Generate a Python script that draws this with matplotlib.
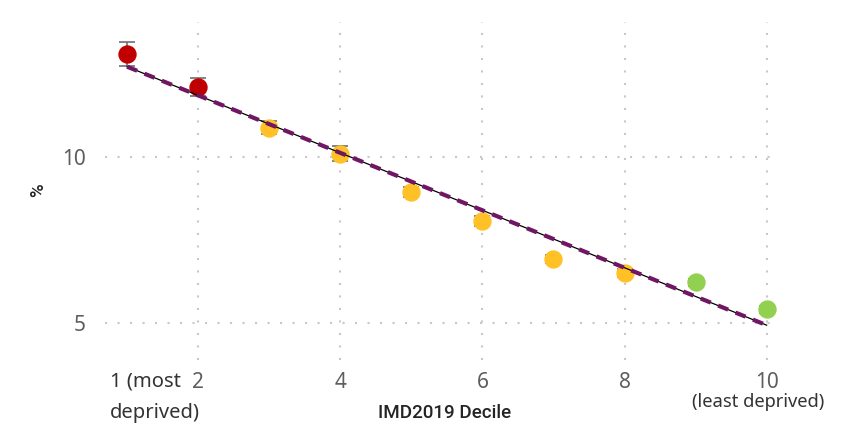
import matplotlib.pyplot as plt
import numpy as np

plt.rcParams["font.family"] = ["Noto Sans", "DejaVu Sans"]

# IMD2019 decile values (%)
deciles = [1, 2, 3, 4, 5, 6, 7, 8, 9, 10]
values = [13.08, 12.10, 10.87, 10.09, 8.95, 8.08, 6.92, 6.50, 6.23, 5.42]
errors = [0.35, 0.27, 0.20, 0.22, 0.15, 0.15, 0.12, 0.12, 0.10, 0.10]
groups = ["red", "red", "amber", "amber", "amber", "amber", "amber", "amber", "green", "green"]
group_colours = {"red": "#C00000", "amber": "#FFC125", "green": "#92D050"}

x_ticks = [2, 4, 6, 8, 10]
y_ticks = [5, 10]

fig = plt.figure(figsize=(8.54, 4.28), dpi=100)
ax = fig.add_axes([0.123, 0.159, 0.788, 0.790])

# markers with error bars
for x, y, e, g in zip(deciles, values, errors, groups):
    ax.errorbar(x, y, yerr=e, fmt="o", color=group_colours[g], ms=12.2,
                ecolor="#707070", elinewidth=1.2, capsize=5.5, capthick=1.2, zorder=2)

# linear trend, drawn over the markers
slope, intercept = np.polyfit(deciles, values, 1)
xs = np.array([deciles[0], deciles[-1]])
ax.plot(xs, intercept + slope * xs, color="black", lw=0.9, zorder=3)
trend, = ax.plot(xs, intercept + slope * xs, color="#701664", lw=3.0, zorder=4)
trend.set_dashes((2.6, 1.9))

ax.set_xlim(0.69, 10.16)
ax.set_ylim(3.9, 14.05)
ax.set_xticks(x_ticks)
ax.set_yticks(y_ticks)
ax.tick_params(length=0, labelsize=15, labelcolor="#605E5C")
ax.tick_params(axis="x", pad=9)
ax.tick_params(axis="y", pad=14)

ax.grid(True, color="#C8C8C8", lw=1.5, linestyle=(0, (1, 5)))
ax.set_axisbelow(True)
for s in ax.spines.values():
    s.set_visible(False)

fig.text(110 / 854, 1 - 381 / 428, "1 (most", ha="left", va="center", fontsize=14.5, color="#333333")
fig.text(110 / 854, 1 - 413 / 428, "deprived)", ha="left", va="center", fontsize=14.5, color="#333333")
fig.text(758 / 854, 1 - 402 / 428, "(least deprived)", ha="center", va="center", fontsize=13.2, color="#333333")

label_font = dict(family=["Roboto", "DejaVu Sans"], fontsize=13.5, fontweight="medium", color="#252423")
fig.text(445 / 854, 1 - 413 / 428, "IMD2019 Decile", ha="center", va="center", **label_font)
fig.text(38 / 854, 1 - 190 / 428, "%", ha="center", va="center", rotation=90, **label_font)

fig.savefig("out.png", dpi=100)
